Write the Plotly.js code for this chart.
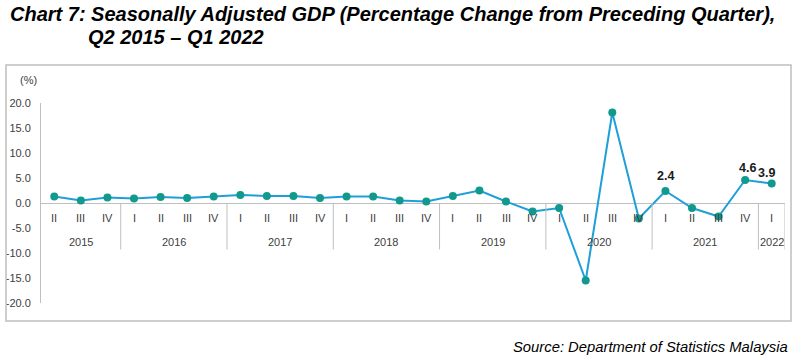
<!DOCTYPE html>
<html>
<head>
<meta charset="utf-8">
<script src="https://cdn.plot.ly/plotly-3.0.1.min.js"></script>
<style>
html,body{margin:0;padding:0;background:#fff;}
#chart{width:801px;height:360px;}
</style>
</head>
<body>
<div id="chart"></div>
<script>
// ---- data ----
const quarters = ['II','III','IV','I','II','III','IV','I','II','III','IV','I','II','III','IV','I','II','III','IV','I','II','III','IV','I','II','III','IV','I'];
const years = ['2015','2015','2015','2016','2016','2016','2016','2017','2017','2017','2017','2018','2018','2018','2018','2019','2019','2019','2019','2020','2020','2020','2020','2021','2021','2021','2021','2022'];
const gdpChange = [1.3,0.5,1.1,0.9,1.2,1.0,1.3,1.6,1.4,1.4,1.0,1.3,1.3,0.5,0.3,1.4,2.5,0.3,-1.7,-1.0,-15.5,18.1,-3.1,2.4,-1.0,-2.7,4.6,3.9];
const labelledPoints = [23,26,27];
const yTicks = [-20,-15,-10,-5,0,5,10,15,20];

const titleLine1 = 'Chart 7: Seasonally Adjusted GDP (Percentage Change from Preceding Quarter),';
const titleLine2 = 'Q2 2015 \u2013 Q1 2022';
const sourceText = 'Source: Department of Statistics Malaysia';
const unitText = '(%)';

// ---- layout helpers ----
const L = 41, R = 16, T = 103, B = 57, W = 801, H = 360;
const PW = W - L - R, PH = H - T - B;
const px = x => (x - L) / PW;
const py = y => (H - B - y) / PH;

const cats = quarters.map((q, i) => years[i] + ' Q' + q);
const narrow = 'Liberation Sans Narrow, Arial Narrow, Liberation Sans, Arial, sans-serif';
const grey = '#BFBFBF';
const txt = '#404040';

// year groups
const groups = [];
years.forEach((y, i) => {
  const g = groups[groups.length - 1];
  if (g && g.year === y) g.end = i; else groups.push({year: y, start: i, end: i});
});

const annotations = [];
quarters.forEach((q, i) => {
  annotations.push({x: cats[i], y: -3.0, xref: 'x', yref: 'y', text: q, showarrow: false,
    font: {family: narrow, size: 11, color: txt}});
});
groups.forEach(g => {
  annotations.push({x: (g.start + g.end) / 2, y: -7.8, xref: 'x', yref: 'y', text: g.year, showarrow: false,
    font: {family: narrow, size: 11, color: txt}});
});
const lblShift = {23: [0, 15], 26: [2, 12], 27: [-5, 11]};
labelledPoints.forEach(i => {
  annotations.push({x: cats[i], y: gdpChange[i], xref: 'x', yref: 'y', text: gdpChange[i].toFixed(1),
    showarrow: false, xshift: lblShift[i][0], yshift: lblShift[i][1],
    font: {family: narrow, size: 12.5, color: '#1a1a1a', weight: 'bold'}});
});
annotations.push({x: px(8), y: py(14), xref: 'paper', yref: 'paper', xanchor: 'left', yanchor: 'middle',
  text: '<b><i>' + titleLine1 + '</i></b>', showarrow: false,
  font: {family: 'Liberation Sans, Arial, sans-serif', size: 20, color: '#000'}});
annotations.push({x: px(86), y: py(37), xref: 'paper', yref: 'paper', xanchor: 'left', yanchor: 'middle',
  text: '<b><i>' + titleLine2 + '</i></b>', showarrow: false,
  font: {family: 'Liberation Sans, Arial, sans-serif', size: 20, color: '#000'}});
annotations.push({x: px(790), y: py(347), xref: 'paper', yref: 'paper', xanchor: 'right', yanchor: 'middle',
  text: '<i>' + sourceText + '</i>', showarrow: false,
  font: {family: 'Liberation Sans, Arial, sans-serif', size: 14.8, color: '#000'}});
annotations.push({x: px(28), y: py(80), xref: 'paper', yref: 'paper', xanchor: 'center', yanchor: 'middle',
  text: unitText, showarrow: false, font: {family: narrow, size: 11, color: txt}});

const shapes = [];
groups.forEach(g => {
  if (g.start === 0) return;
  shapes.push({type: 'line', xref: 'x', yref: 'y', x0: g.start - 0.5, x1: g.start - 0.5, y0: 0, y1: -9.3,
    line: {color: grey, width: 1}});
});
shapes.push({type: 'line', xref: 'x', yref: 'y', x0: cats.length - 0.5, x1: cats.length - 0.5, y0: 0, y1: -9.3,
  line: {color: grey, width: 1}});
shapes.push({type: 'rect', xref: 'paper', yref: 'paper', x0: px(6), x1: px(791), y0: py(321), y1: py(65),
  line: {color: grey, width: 1.5}, fillcolor: 'rgba(0,0,0,0)'});

const trace = {
  x: cats, y: gdpChange, type: 'scatter', mode: 'lines+markers',
  line: {color: '#1E9FD8', width: 2},
  marker: {color: '#12998E', size: 8},
  hoverinfo: 'x+y'
};

const layout = {
  width: W, height: H,
  margin: {l: L, r: R, t: T, b: B, pad: 0},
  paper_bgcolor: '#fff', plot_bgcolor: '#fff',
  showlegend: false,
  xaxis: {type: 'category', range: [-0.5, cats.length - 0.5], showticklabels: false, showgrid: false,
    zeroline: false, showline: false, ticks: '', fixedrange: true},
  yaxis: {range: [-20, 20], tickvals: yTicks, ticktext: yTicks.map(v => v.toFixed(1)), showgrid: false,
    zeroline: true, zerolinecolor: grey, zerolinewidth: 1, showline: true, linecolor: grey, linewidth: 1,
    ticks: '', ticklabelstandoff: 7, tickfont: {family: narrow, size: 11, color: txt}, fixedrange: true},
  annotations: annotations,
  shapes: shapes
};

Plotly.newPlot('chart', [trace], layout, {displayModeBar: false, staticPlot: true});
</script>
</body>
</html>
